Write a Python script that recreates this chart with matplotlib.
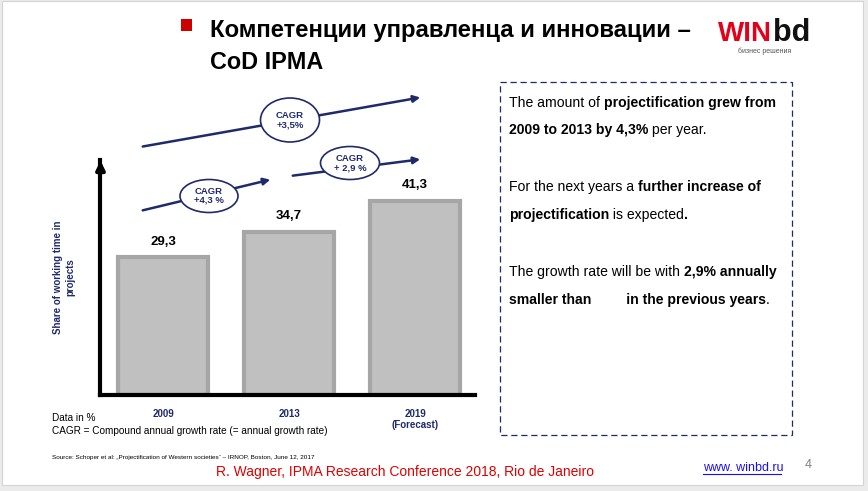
import matplotlib
matplotlib.use("Agg")
import matplotlib.pyplot as plt
from matplotlib.patches import Ellipse, Rectangle

plt.rcParams['font.family'] = ['Liberation Sans', 'DejaVu Sans']

# data
years = ["2009", "2013", "2019\n(Forecast)"]
share = [29.3, 34.7, 41.3]
share_labels = ["29,3", "34,7", "41,3"]
cagr_labels = ["CAGR\n+3,5%", "CAGR\n+4,3 %", "CAGR\n+ 2,9 %"]

NAVY = "#1f2a6b"
RED = "#e00000"

W, H = 868, 491
fig = plt.figure(figsize=(W / 100, H / 100), dpi=100)
fig.patch.set_facecolor("#ebebeb")

# overlay in pixel coords (y downward)
ov = fig.add_axes([0, 0, 1, 1])
ov.set_xlim(0, W)
ov.set_ylim(H, 0)
ov.axis("off")
ov.add_patch(Rectangle((2, 1), 861, 484, facecolor="white", edgecolor="#d4d4d4", lw=0.8))

# bar chart axes
ax = fig.add_axes([100 / W, (H - 395) / H, 375 / W, 235 / H])
ax.set_xlim(-0.5, 2.476)
ax.set_ylim(0, 50)
ax.patch.set_alpha(0)
x = list(range(len(years)))
ax.bar(x, share, width=0.71, color="#c0c0c0", edgecolor="#a6a6a6", linewidth=3, zorder=2)
for xi, v, lab in zip(x, share, share_labels):
    ax.text(xi, v + 3.3, lab, ha="center", va="center", fontsize=9.5, fontweight="bold")
for s in ["top", "right"]:
    ax.spines[s].set_visible(False)
for s in ["left", "bottom"]:
    ax.spines[s].set_linewidth(3)
ax.set_yticks([])
ax.set_xticks(x)
ax.set_xticklabels(years, fontsize=7, fontweight="bold", color=NAVY, va="top")
ax.tick_params(axis="x", length=0, pad=10)
ax.set_ylabel("Share of working time in\nprojects", fontsize=7, fontweight="bold",
              color=NAVY, labelpad=18)
# arrow head on y axis
ov.annotate("", xy=(100.5, 158), xytext=(100.5, 175),
            arrowprops=dict(arrowstyle="-|>", color="black", lw=3, mutation_scale=12))

# CAGR arrows and ellipses
arrows = [((140, 147), (423, 97)), ((140, 211), (273, 179)), ((290, 176), (423, 159))]
ells = [((290, 120), 59, 44), ((209, 196), 58, 33), ((350, 163), 59, 33)]
for (p0, p1), ((cx, cy), ew, eh), lab in zip(arrows, ells, cagr_labels):
    ov.annotate("", xy=p1, xytext=p0,
                arrowprops=dict(arrowstyle="-|>", color=NAVY, lw=1.8, mutation_scale=10))
    ov.add_patch(Ellipse((cx, cy), ew, eh, facecolor="white", edgecolor=NAVY, lw=1.2, zorder=5))
    ov.text(cx, cy, lab, ha="center", va="center", fontsize=6.8, fontweight="bold",
            color=NAVY, zorder=6, linespacing=1.0)

# title
ov.add_patch(Rectangle((181, 19), 11, 12, facecolor="#cc0000", edgecolor="none"))
ov.text(210, 30, "Компетенции управленца и инновации –", fontsize=17.2, fontweight="bold",
        va="center", ha="left")
ov.text(210, 62, "CoD IPMA", fontsize=16.8, fontweight="bold", va="center", ha="left")

# logo
t = ov.text(718, 34, "WIN", fontsize=20, fontweight="bold", color="#e3001b", va="center",
            ha="left")
fig.canvas.draw()
r = fig.canvas.get_renderer()
bb = t.get_window_extent(r)
ov.text(718 + bb.width + 1, 33, "bd", fontsize=22, fontweight="bold", color="#111111",
        va="center", ha="left")
ov.text(738, 51, "бизнес решения", fontsize=5, color="#555555", va="center", ha="left")


# text box with mixed weight
def rich_line(xp, yp, parts, size=10.1):
    fig.canvas.draw()
    r = fig.canvas.get_renderer()
    cur = xp
    for s, bold in parts:
        t = ov.text(cur, yp, s, fontsize=size, fontweight="bold" if bold else "normal",
                    va="baseline", ha="left")
        bb = t.get_window_extent(r)
        cur += bb.width


ov.add_patch(Rectangle((500, 82), 292, 353, facecolor="none", edgecolor=NAVY, lw=0.9,
                       linestyle=(0, (5, 3))))
lines = [
    (107, [("The amount of ", False), ("projectification grew from", True)]),
    (134, [("2009 to 2013 by 4,3%", True), (" per year.", False)]),
    (191, [("For the next years a ", False), ("further increase of", True)]),
    (219, [("projectification", True), (" is expected", False), (".", True)]),
    (276, [("The growth rate will be with ", False), ("2,9% annually", True)]),
    (304, [("smaller than         in the previous years", True), (".", False)]),
]
for yp, parts in lines:
    rich_line(509, yp, parts)

# footnotes
ov.text(52, 418, "Data in %", fontsize=7.2, va="center", ha="left")
ov.text(52, 431, "CAGR = Compound annual growth rate (= annual growth rate)", fontsize=7.2,
        va="center", ha="left")
ov.text(52, 458, "Source: Schoper et al: „Projectification of Western societies“ – IRNOP, Boston, June 12, 2017",
        fontsize=4.6, va="center", ha="left")
ov.text(405, 472, "R. Wagner, IPMA Research Conference 2018, Rio de Janeiro", fontsize=10,
        color=RED, va="center", ha="center")
ov.text(703, 468, "www. winbd.ru", fontsize=9, color="#1a0dff", va="center", ha="left")
ov.plot([703, 781], [474, 474], color="#1a0dff", lw=0.8)
ov.text(805, 465, "4", fontsize=9, color="#7f7f7f", va="center", ha="left")

fig.savefig("out.png", dpi=100)
